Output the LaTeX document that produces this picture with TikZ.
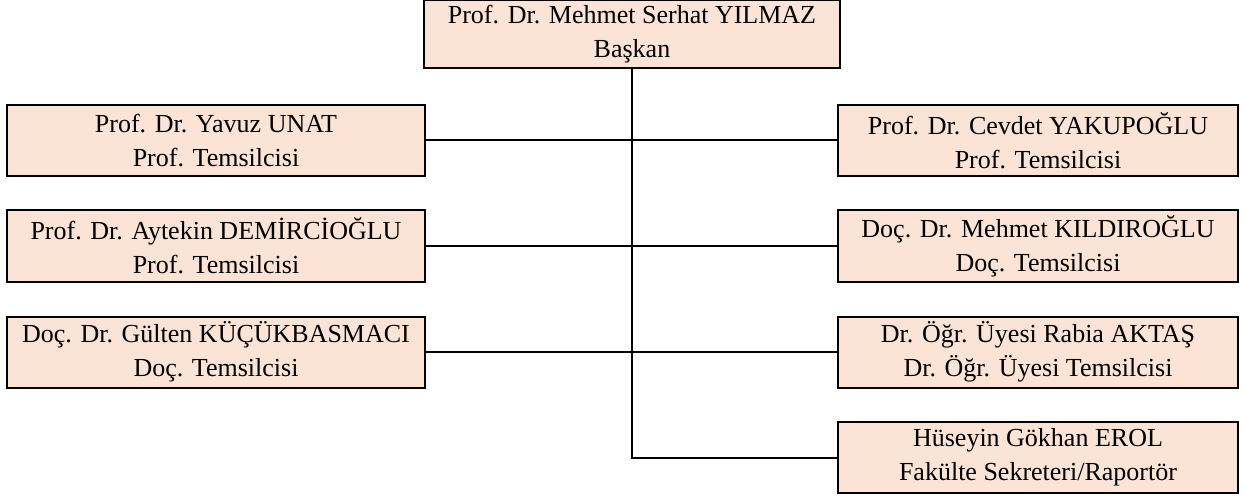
\documentclass[tikz,border=0pt]{standalone}
\usepackage{fontspec}
\setmainfont{Liberation Serif}
\definecolor{boxfill}{HTML}{FBE4D5}
\begin{document}
\begin{tikzpicture}[x=1pt,y=-1pt,
	member/.style={draw,line width=2pt,fill=boxfill,align=center,
		minimum width=#1,minimum height=71pt,inner sep=0pt,
		font=\fontsize{26}{34}\selectfont},
	link/.style={line width=2pt}]
\useasboundingbox (0,0) rectangle (1245,497);

\node[member=416pt,minimum height=68pt] (chair) at (632,34.5) {Prof. Dr. Mehmet Serhat YILMAZ\\Başkan};

\node[member=418pt] (unat) at (216,140.5) {Prof. Dr. Yavuz UNAT\\Prof. Temsilcisi};
\node[member=418pt] (demirci) at (216,246) {Prof. Dr. Aytekin DEMİRCİOĞLU\\Prof. Temsilcisi};
\node[member=418pt] (kucuk) at (216,352) {Doç. Dr. Gülten KÜÇÜKBASMACI\\Doç. Temsilcisi};

\node[member=400pt] (yakup) at (1038,140.5) {Prof. Dr. Cevdet YAKUPOĞLU\\Prof. Temsilcisi};
\node[member=400pt] (kildir) at (1038,246) {Doç. Dr. Mehmet KILDIROĞLU\\Doç. Temsilcisi};
\node[member=400pt] (aktas) at (1038,352) {Dr. Öğr. Üyesi Rabia AKTAŞ\\Dr. Öğr. Üyesi Temsilcisi};
\node[member=400pt] (erol) at (1038,457.5) {Hüseyin Gökhan EROL\\Fakülte Sekreteri/Raportör};

\draw[link] (chair.south) -- (chair.south |- erol.west) -- (erol.west);
\draw[link] (unat.east) -- (yakup.west);
\draw[link] (demirci.east) -- (kildir.west);
\draw[link] (kucuk.east) -- (aktas.west);

\end{tikzpicture}
\end{document}
